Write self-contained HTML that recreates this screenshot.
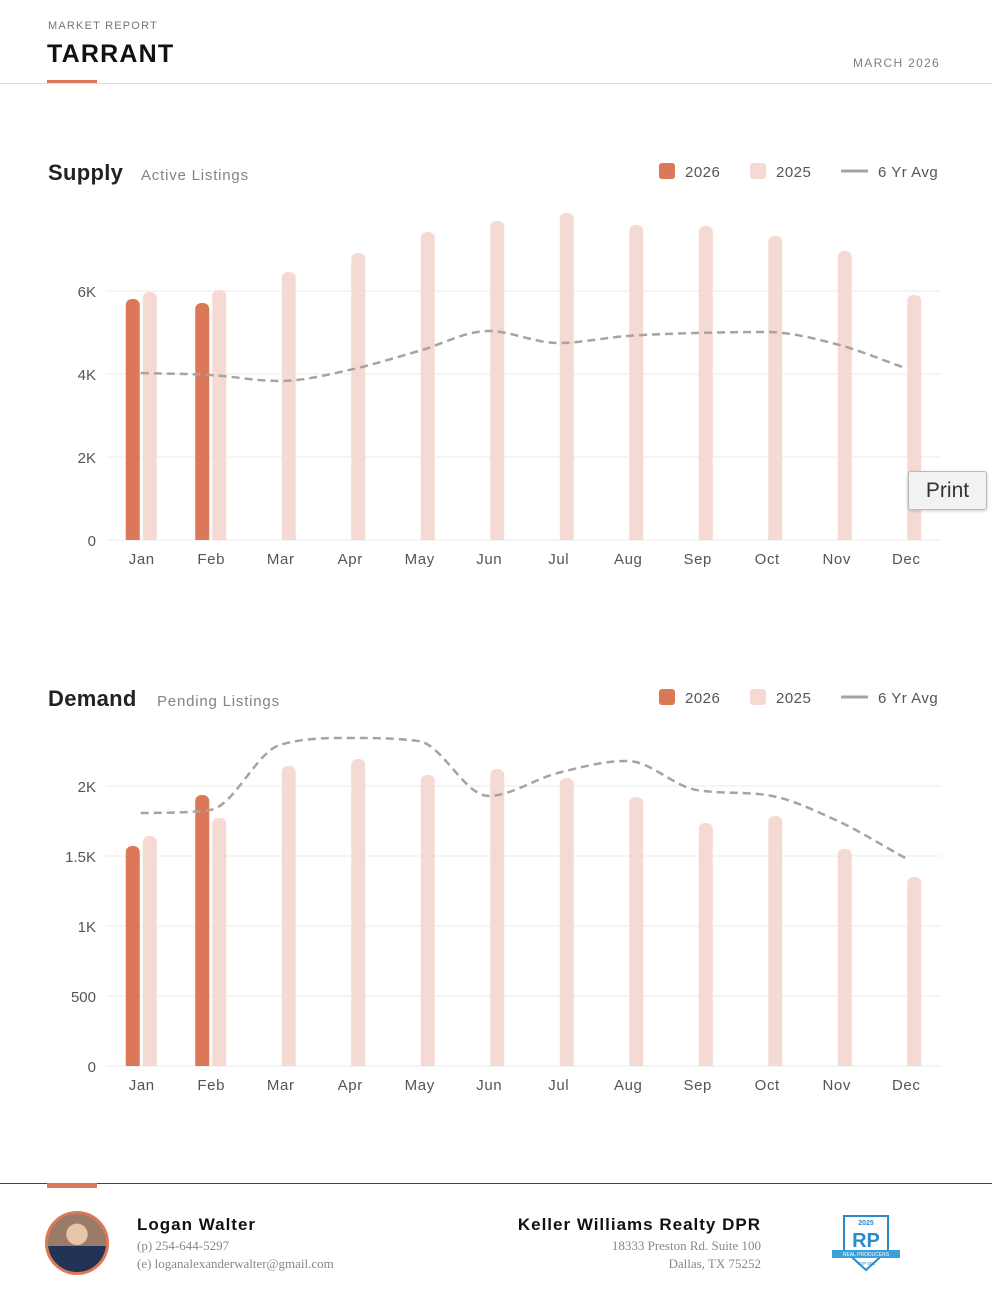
<!DOCTYPE html>
<html><head><meta charset="utf-8"><style>
*{margin:0;padding:0;box-sizing:border-box}
body{width:992px;height:1292px;background:#fff;font-family:"Liberation Sans",sans-serif;position:relative;overflow:hidden}
.abs{position:absolute}
.t{white-space:nowrap}
</style></head><body>
<div class="abs t" style="left:48px;top:20px;font-size:11px;letter-spacing:1.2px;color:#7a7470">MARKET REPORT</div>
<div class="abs t" style="left:47px;top:40px;font-size:25px;font-weight:bold;color:#111;letter-spacing:1.2px">TARRANT</div>
<div class="abs t" style="right:52px;top:56px;font-size:12px;letter-spacing:1.3px;color:#857d76">MARCH 2026</div>
<div class="abs" style="left:47px;top:80px;width:50px;height:4px;background:#dc7857"></div>
<div class="abs" style="left:0;top:83px;width:992px;height:1px;background:#ddd"></div>

<svg class="abs" style="left:0;top:0" width="992" height="1180" id="svg"></svg>

<div class="abs t" style="left:908px;top:471px;width:79px;height:39px;border:1px solid #bbb;border-radius:3px;background:#f2f2f2;font-size:21px;color:#333;text-align:center;line-height:37px;box-shadow:0 1px 3px rgba(0,0,0,.2)">Print</div>

<div class="abs" style="left:0;top:1183px;width:992px;height:1px;background:#444"></div>
<div class="abs" style="left:47px;top:1183px;width:50px;height:5px;background:#dc7857"></div>
<div class="abs" style="left:45px;top:1211px;width:64px;height:64px;border-radius:50%;border:3px solid #dc7857;background:radial-gradient(circle at 50% 35%,#e8c4a8 0 22%,transparent 23%),linear-gradient(#9a7b68 0 55%,#223355 55%)"></div>
<div class="abs t" style="left:137px;top:1215px;font-size:17px;font-weight:bold;letter-spacing:1px;color:#111">Logan Walter</div>
<div class="abs t" style="left:137px;top:1238px;font-size:13px;font-family:'Liberation Serif',serif;color:#888">(p) 254-644-5297</div>
<div class="abs t" style="left:137px;top:1256px;font-size:13px;font-family:'Liberation Serif',serif;color:#888">(e) loganalexanderwalter@gmail.com</div>
<div class="abs t" style="right:231px;top:1215px;font-size:17px;font-weight:bold;letter-spacing:1px;color:#111">Keller Williams Realty DPR</div>
<div class="abs t" style="right:231px;top:1238px;font-size:13px;font-family:'Liberation Serif',serif;color:#888;text-align:right">18333 Preston Rd. Suite 100</div>
<div class="abs t" style="right:231px;top:1256px;font-size:13px;font-family:'Liberation Serif',serif;color:#888;text-align:right">Dallas, TX 75252</div>
<svg class="abs" style="left:830px;top:1212px" width="72" height="62">
<path d="M14 4 L58 4 L58 38 L36 58 L14 38 Z" fill="#fff" stroke="#2d8ac9" stroke-width="2"/>
<text x="36" y="13" font-size="7" font-weight="bold" fill="#2d8ac9" text-anchor="middle">2025</text>
<text x="36" y="35" font-size="20" font-weight="bold" fill="#2d8ac9" text-anchor="middle">RP</text>
<rect x="2" y="38" width="68" height="8" fill="#3aa0dc"/>
<text x="36" y="44" font-size="5" fill="#fff" text-anchor="middle">REAL PRODUCERS</text>
<text x="36" y="53" font-size="4.5" fill="#2d8ac9" text-anchor="middle">TOP 500</text>
</svg>

<script>
const months=["Jan","Feb","Mar","Apr","May","Jun","Jul","Aug","Sep","Oct","Nov","Dec"];
const supply2026=[5807,5711];
const supply2025=[5976,6024,6458,6916,7422,7687,7880,7590,7566,7325,6964,5904];
const supplyAvg=[4024,3976,3831,4096,4554,5036,4747,4916,4988,5012,4723,4145];
const supplyTicks=[0,2000,4000,6000];
const supplyTickLabels=["0","2K","4K","6K"];
const demand2026=[1571,1936];
const demand2025=[1643,1771,2143,2193,2079,2121,2057,1921,1736,1786,1550,1350];
const demandAvg=[1807,1829,2293,2343,2321,1929,2093,2179,1971,1936,1757,1486];
const demandTicks=[0,500,1000,1500,2000];
const demandTickLabels=["0","500","1K","1.5K","2K"];

const svg=document.getElementById('svg');
const NS='http://www.w3.org/2000/svg';
function mk(tag,attrs,parent){const e=document.createElementNS(NS,tag);for(const k in attrs)e.setAttribute(k,attrs[k]);(parent||svg).appendChild(e);return e;}
function txt(x,y,s,size,fill,anchor,weight,parent,ls){const e=mk('text',{x:x,y:y,'font-size':size,fill:fill,'text-anchor':anchor||'start','font-family':'Liberation Sans, sans-serif'},parent);if(weight)e.setAttribute('font-weight',weight);if(ls)e.setAttribute('letter-spacing',ls);e.textContent=s;return e;}

function monotonePath(pts){
  const n=pts.length,dx=[],dy=[],m=[],t=[];
  for(let i=0;i<n-1;i++){dx[i]=pts[i+1][0]-pts[i][0];dy[i]=pts[i+1][1]-pts[i][1];m[i]=dy[i]/dx[i];}
  t[0]=m[0];t[n-1]=m[n-2];
  for(let i=1;i<n-1;i++){t[i]=(m[i-1]*m[i]<=0)?0:(m[i-1]+m[i])/2;}
  for(let i=0;i<n-1;i++){
    if(m[i]===0){t[i]=0;t[i+1]=0;continue;}
    const a=t[i]/m[i],b=t[i+1]/m[i],s=a*a+b*b;
    if(s>9){const k=3/Math.sqrt(s);t[i]=k*a*m[i];t[i+1]=k*b*m[i];}
  }
  let d=`M${pts[0][0]} ${pts[0][1]}`;
  for(let i=0;i<n-1;i++){
    const h=dx[i]/3;
    d+=` C${pts[i][0]+h} ${pts[i][1]+t[i]*h} ${pts[i+1][0]-h} ${pts[i+1][1]-t[i+1]*h} ${pts[i+1][0]} ${pts[i+1][1]}`;
  }
  return d;
}

function chart(o){
  const g=mk('g',{});
  
  
  const x0=106,x1=940,bw=(x1-x0)/12;
  const y=v=>o.base-v*o.scale;
  const xc=i=>x0+bw*(i+0.5);
  const t=txt(48,o.titleY,o.title,22,'#222','start','bold',g,'0.3');
  
  
  const st=txt(o.subX,o.titleY,o.sub,15,'#8a827b','start',null,g,'0.8');
  
  
  const ly=o.titleY-3;
  const l1=mk('rect',{x:659,y:ly-14,width:16,height:16,rx:3,fill:'#dc7857'},g);
  
  
  txt(685,ly,'2026',15,'#555','start',null,g,'0.5');
  const l2=mk('rect',{x:750,y:ly-14,width:16,height:16,rx:3,fill:'#f5dad3'},g);
  
  
  txt(776,ly,'2025',15,'#555','start',null,g,'0.5');
  const l3=mk('line',{x1:841,x2:868,y1:ly-6,y2:ly-6,stroke:'#a8a39e','stroke-width':3},g);
  
  
  txt(878,ly,'6 Yr Avg',15,'#555','start',null,g,'0.5');
  o.ticks.forEach((v,i)=>{
    const gl=mk('line',{x1:x0,x2:x1,y1:y(v),y2:y(v),stroke:'#ebebeb','stroke-width':1},g);
    
    
    const tl=txt(96,y(v)+6,o.tickLabels[i],15,'#555','end',null,g);
    
    
  });
  function bar(xl,v,fill,name){
    const b=mk('path',{d:`M${xl} ${y(0)} V${y(v)+6} a6 6 0 0 1 6 -6 h2 a6 6 0 0 1 6 6 V${y(0)} Z`,fill:fill},g);
    
    
  }
  months.forEach((m,i)=>{
    if(o.d25[i]!=null)bar(xc(i)+2,o.d25[i],'#f5dad3','bar-2025-'+m.toLowerCase());
    if(o.d26[i]!=null)bar(xc(i)-15,o.d26[i],'#dc7857','bar-2026-'+m.toLowerCase());
    const ml=txt(xc(i)+1,y(0)+24,m,15,'#555','middle',null,g,'0.6');
    
    
  });
  const pts=o.avg.map((v,i)=>[xc(i),y(v)]);
  const ln=mk('path',{d:monotonePath(pts),fill:'none',stroke:'#a8a39e','stroke-width':2.5,'stroke-dasharray':'8 5'},g);
  
  
}
chart({name:'supply',title:'Supply',sub:'Active Listings',subX:141,titleY:180,base:540,scale:83/2000,ticks:supplyTicks,tickLabels:supplyTickLabels,d26:supply2026,d25:supply2025,avg:supplyAvg});
chart({name:'demand',title:'Demand',sub:'Pending Listings',subX:157,titleY:706,base:1066,scale:280/2000,ticks:demandTicks,tickLabels:demandTickLabels,d26:demand2026,d25:demand2025,avg:demandAvg});
</script>
</body></html>
